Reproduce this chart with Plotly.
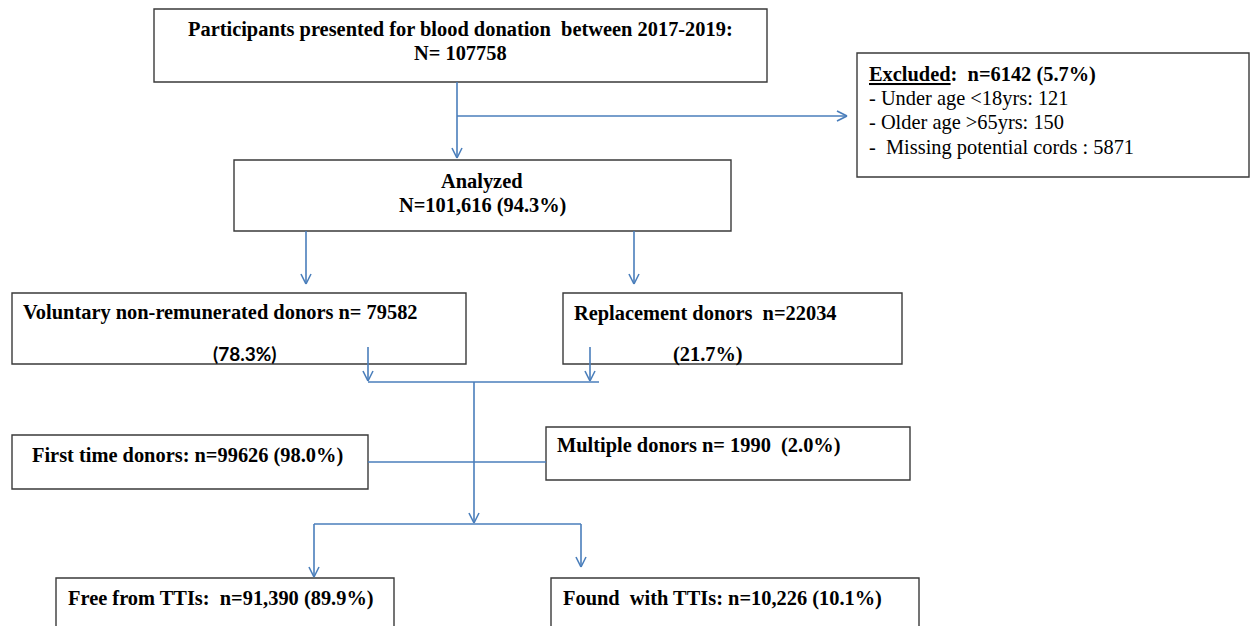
import plotly.graph_objects as go

# ---- data (flow stages) ----
stage_names = ["Participants", "Excluded", "Analyzed", "Voluntary", "Replacement",
               "First time", "Multiple", "Free from TTIs", "Found with TTIs"]
stage_counts = ["107758", "6142", "101,616", "79582", "22034", "99626", "1990", "91,390", "10,226"]
stage_pcts = ["", "5.7%", "94.3%", "78.3%", "21.7%", "98.0%", "2.0%", "89.9%", "10.1%"]
excluded_reasons = ["- Under age <18yrs: 121", "- Older age >65yrs: 150", "-  Missing potential cords : 5871"]

NB = "\u00a0"

# ---- layout geometry (pixels) ----
W, H = 1251, 626
box_x0 = [154, 857, 234, 12, 563, 12, 546, 56, 551]
box_x1 = [767, 1249, 731, 466, 902, 368, 910, 394, 919]
box_y0 = [9, 53, 160, 293, 293, 435, 427, 578, 578]
box_y1 = [82, 177, 231, 364, 364, 489, 480, 640, 640]

# connectors: (x0, y0, x1, y1, arrow at end?)
seg_x0 = [457, 457, 306, 634, 368, 590, 368, 474, 368, 314, 314, 581]
seg_y0 = [82, 116, 231, 231, 347, 347, 382, 382, 462, 524, 524, 524]
seg_x1 = [457, 847, 306, 634, 368, 590, 599, 474, 546, 581, 314, 581]
seg_y1 = [158, 116, 284, 284, 381, 381, 382, 523, 462, 524, 577, 567]
seg_arrow = [True, True, True, True, True, True, False, True, False, False, True, True]

LINE = "#4A7EBB"
BORDER = "#3a3a3a"
SERIF = "Liberation Serif"
FS = 20.4

fig = go.Figure()
shapes = []
for x0, x1, y0, y1 in zip(box_x0, box_x1, box_y0, box_y1):
    shapes.append(dict(type="rect", x0=x0, x1=x1, y0=y0, y1=y1, xref="x", yref="y",
                       line=dict(color=BORDER, width=1.4), fillcolor="rgba(0,0,0,0)"))
for x0, y0, x1, y1, arr in zip(seg_x0, seg_y0, seg_x1, seg_y1, seg_arrow):
    shapes.append(dict(type="line", x0=x0, y0=y0, x1=x1, y1=y1, xref="x", yref="y",
                       line=dict(color=LINE, width=1.6)))
    if arr:
        dx = (x1 > x0) - (x1 < x0)
        dy = (y1 > y0) - (y1 < y0)
        L, Wd = 10, 5
        bx, by = -dx * L, -dy * L
        px, py = -dy * Wd, dx * Wd
        for s in (1, -1):
            shapes.append(dict(type="line", x0=x1, y0=y1, x1=x1 + bx + s * px, y1=y1 + by + s * py,
                               xref="x", yref="y", line=dict(color=LINE, width=1.6)))

ann = []
def txt(x, y, s, anchor="left", bold=True, family=SERIF, size=FS):
    ann.append(dict(x=x, y=y, xref="x", yref="y", text=(f"<b>{s}</b>" if bold else s),
                    showarrow=False, xanchor=anchor, yanchor="middle",
                    font=dict(family=family, size=size, color="black")))

txt(460, 29, f"Participants presented for blood donation{NB}{NB}between 2017-2019:", "center")
txt(460, 53, f"N={NB}{stage_counts[0]}", "center")
txt(867, 74, f"<u>{stage_names[1]}</u>:{NB}{NB}n={stage_counts[1]} ({stage_pcts[1]})")
for i, r in enumerate(excluded_reasons):
    txt(867, 98 + 24.5 * i, r.replace("  ", NB + NB), bold=False)
txt(482, 181, stage_names[2], "center")
txt(482, 205, f"N={stage_counts[2]} ({stage_pcts[2]})", "center")
txt(21, 312, f"{stage_names[3]} non-remunerated donors n={NB}{stage_counts[3]}")
txt(245, 353, f"({stage_pcts[3]})", "center", family="Lato", size=19)
txt(572, 313, f"{stage_names[4]} donors{NB}{NB}n={stage_counts[4]}")
txt(708, 354, f"({stage_pcts[4]})", "center")
txt(30, 455, f"{stage_names[5]} donors: n={stage_counts[5]} ({stage_pcts[5]})")
txt(555, 445, f"{stage_names[6]} donors n={NB}{stage_counts[6]}{NB}{NB}({stage_pcts[6]})")
txt(66, 598, f"Free from TTIs:{NB}{NB}n={stage_counts[7]} ({stage_pcts[7]})")
txt(561, 598, f"Found{NB}{NB}with TTIs: n={stage_counts[8]} ({stage_pcts[8]})")

fig.update_layout(
    width=W, height=H, margin=dict(l=0, r=0, t=0, b=0), autosize=False,
    paper_bgcolor="white", plot_bgcolor="white",
    xaxis=dict(range=[0, W], visible=False, fixedrange=True),
    yaxis=dict(range=[H, 0], visible=False, fixedrange=True),
    shapes=shapes, annotations=ann, showlegend=False,
)
fig.write_html("out.html", config={"displayModeBar": False, "responsive": False},
               post_script="document.body.style.margin='0';document.body.style.overflow='hidden';")
